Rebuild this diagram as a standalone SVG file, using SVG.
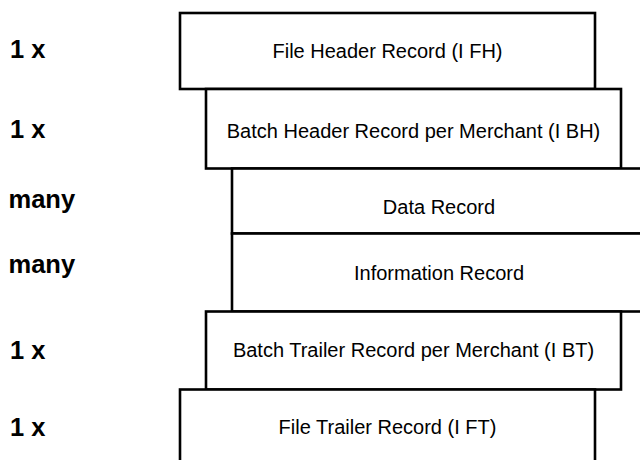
<svg xmlns="http://www.w3.org/2000/svg" width="640" height="460" viewBox="0 0 640 460">
<style>
.box{fill:#fff;stroke:#000;stroke-width:2.6}
.t{font-family:"Liberation Sans",Arial,sans-serif;font-size:20px;text-anchor:middle;fill:#000}
.lbl{font-family:"Liberation Sans",Arial,sans-serif;font-size:25.5px;font-weight:bold;fill:#000}
</style>
<rect width="640" height="460" fill="#fff"/>
<g id="labels">
<text class="lbl" x="10" y="58">1 x</text>
<text class="lbl" x="10" y="137.5">1 x</text>
<text class="lbl" x="8.5" y="208">many</text>
<text class="lbl" x="8.5" y="273">many</text>
<text class="lbl" x="10" y="358.5">1 x</text>
<text class="lbl" x="10" y="436">1 x</text>
</g>
<g id="file-header"><rect class="box" x="180" y="13" width="415" height="76"/><text class="t" x="387.5" y="58">File Header Record (I FH)</text></g>
<g id="batch-header"><rect class="box" x="206" y="89" width="415" height="79.5"/><text class="t" x="413.5" y="138.3">Batch Header Record per Merchant (I BH)</text></g>
<g id="data-record"><rect class="box" x="232" y="168.5" width="420" height="65"/><text class="t" x="439" y="214">Data Record</text></g>
<g id="information-record"><rect class="box" x="232" y="233.5" width="420" height="78"/><text class="t" x="439" y="280">Information Record</text></g>
<g id="batch-trailer"><rect class="box" x="206" y="311.5" width="415" height="78"/><text class="t" x="413.5" y="356.7">Batch Trailer Record per Merchant (I BT)</text></g>
<g id="file-trailer"><rect class="box" x="180" y="389.5" width="415" height="80"/><text class="t" x="387.5" y="434.3">File Trailer Record (I FT)</text></g>
<g id="connectors"></g>
</svg>
